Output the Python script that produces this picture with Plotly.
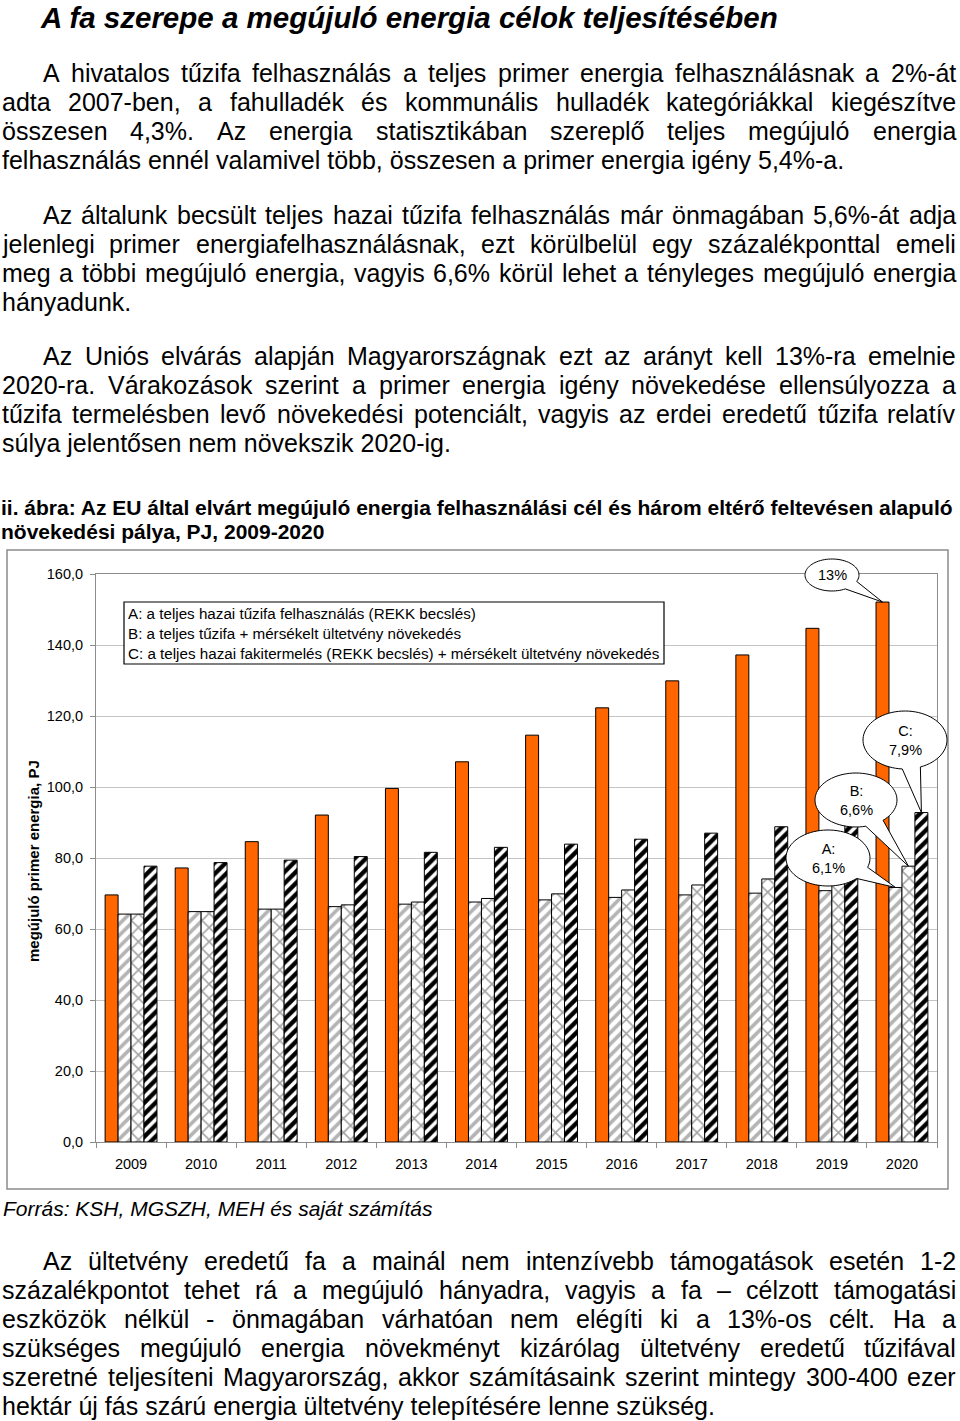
import math
import plotly.graph_objects as go

# ---------------- data ----------------
years = ["2009", "2010", "2011", "2012", "2013", "2014",
         "2015", "2016", "2017", "2018", "2019", "2020"]
eu_target = [69.6, 77.2, 84.6, 92.1, 99.6, 107.1, 114.6, 122.3, 129.9, 137.2, 144.7, 152.1]
scen_a = [64.2, 64.9, 65.6, 66.3, 67.0, 67.6, 68.2, 68.9, 69.6, 70.1, 70.8, 71.7]
scen_b = [64.2, 64.9, 65.6, 66.8, 67.6, 68.6, 69.9, 71.0, 72.4, 74.1, 75.9, 77.7]
scen_c = [77.7, 78.7, 79.4, 80.4, 81.6, 83.0, 83.9, 85.3, 87.0, 88.8, 90.7, 92.8]
y_tick_vals = [0, 20, 40, 60, 80, 100, 120, 140, 160]
y_tick_text = ["0,0", "20,0", "40,0", "60,0", "80,0", "100,0", "120,0", "140,0", "160,0"]

title_text = "A fa szerepe a megújuló energia célok teljesítésében"
para1 = [
    "A hivatalos tűzifa felhasználás a teljes primer energia felhasználásnak a 2%-át",
    "adta 2007-ben, a fahulladék és kommunális hulladék kategóriákkal kiegészítve",
    "összesen 4,3%. Az energia statisztikában szereplő teljes megújuló energia",
    "felhasználás ennél valamivel több, összesen a primer energia igény 5,4%-a.",
]
para2 = [
    "Az általunk becsült teljes hazai tűzifa felhasználás már önmagában 5,6%-át adja",
    "jelenlegi primer energiafelhasználásnak, ezt körülbelül egy százalékponttal emeli",
    "meg a többi megújuló energia, vagyis 6,6% körül lehet a tényleges megújuló energia",
    "hányadunk.",
]
para3 = [
    "Az Uniós elvárás alapján Magyarországnak ezt az arányt kell 13%-ra emelnie",
    "2020-ra. Várakozások szerint a primer energia igény növekedése ellensúlyozza a",
    "tűzifa termelésben levő növekedési potenciált, vagyis az erdei eredetű tűzifa relatív",
    "súlya jelentősen nem növekszik 2020-ig.",
]
caption_lines = [
    "ii. ábra: Az EU által elvárt megújuló energia felhasználási cél és három eltérő feltevésen alapuló",
    "növekedési pálya, PJ, 2009-2020",
]
legend_lines = [
    "A: a teljes hazai tűzifa felhasználás (REKK becslés)",
    "B: a teljes tűzifa + mérsékelt ültetvény növekedés",
    "C: a teljes hazai fakitermelés (REKK becslés) + mérsékelt ültetvény növekedés",
]
bubble_labels = ["13%", "C:<br>7,9%", "B:<br>6,6%", "A:<br>6,1%"]
y_title = "megújuló primer energia, PJ"
source_text = "Forrás: KSH, MGSZH, MEH és saját számítás"
para4 = [
    "Az ültetvény eredetű fa a mainál nem intenzívebb támogatások esetén 1-2",
    "százalékpontot tehet rá a megújuló hányadra, vagyis a fa – célzott támogatási",
    "eszközök nélkül - önmagában várhatóan nem elégíti ki a 13%-os célt. Ha a",
    "szükséges megújuló energia növekményt kizárólag ültetvény eredetű tűzifával",
    "szeretné teljesíteni Magyarország, akkor számításaink szerint mintegy 300-400 ezer",
    "hektár új fás szárú energia ültetvény telepítésére lenne szükség.",
]

# ---------------- layout constants ----------------
FONT = "Liberation Sans, Arial, Helvetica, sans-serif"
FIG_W, FIG_H = 960, 1421
PL, PR, PT, PB = 96, 937, 574, 1142
Y_MAX = 160
BARGAP = 0.26
NSER = 4

def px_x(px):
    return (px - PL) / (PR - PL)

def px_y(py):
    return (PB - py) / (PB - PT)

# approximate Arial/Liberation Sans advance widths (1/1000 em)
CW = {}
for ch, w in zip("abcdefghijklmnopqrstuvwxyz",
                 [556, 556, 500, 556, 556, 278, 556, 556, 222, 222, 500, 222, 833,
                  556, 556, 556, 556, 333, 500, 278, 556, 500, 722, 500, 500, 500]):
    CW[ch] = w
for ch, w in zip("ABCDEFGHIJKLMNOPQRSTUVWXYZ",
                 [667, 667, 722, 722, 667, 611, 778, 722, 278, 500, 667, 556, 833,
                  722, 778, 667, 778, 722, 667, 611, 722, 667, 944, 667, 667, 611]):
    CW[ch] = w
CW.update({"á": 556, "é": 556, "í": 278, "ó": 556, "ö": 556, "ő": 556, "ú": 556,
           "ü": 556, "ű": 556, "Á": 667, "É": 667, "Ö": 778, "Ú": 722,
           " ": 278, ",": 278, ".": 278, ":": 278, ";": 278, "-": 333, "%": 889,
           "(": 333, ")": 333, "+": 584, "–": 556})
for d in "0123456789":
    CW[d] = 556

def text_w(s, size):
    return sum(CW.get(c, 556) for c in s) * size / 1000.0

fig = go.Figure()

# ---------------- bars ----------------
series = [
    ("EU cél", eu_target, "#FF6600", None),
    ("A", scen_a, "white", dict(shape="/", fgcolor="#b4b4b4", fgopacity=1, size=8, solidity=0.45)),
    ("B", scen_b, "white", dict(shape="x", fgcolor="#a4a4a4", fgopacity=1, size=10, solidity=0.3)),
    ("C", scen_c, "white", dict(shape="/", fgcolor="#000000", fgopacity=1, size=8, solidity=0.55)),
]
for name, vals, col, pat in series:
    marker = dict(color=col, line=dict(color="black", width=1))
    if pat:
        marker["pattern"] = pat
    fig.add_trace(go.Bar(x=years, y=vals, name=name, marker=marker,
                         showlegend=False, hoverinfo="x+y"))

fig.update_layout(
    width=FIG_W, height=FIG_H,
    margin=dict(l=PL, r=FIG_W - PR, t=PT, b=FIG_H - PB, pad=0),
    paper_bgcolor="white", plot_bgcolor="white",
    barmode="group", bargap=BARGAP, bargroupgap=0,
    font=dict(family=FONT, color="black"),
    xaxis=dict(type="category", showline=True, linecolor="#8c8c8c", linewidth=1,
               mirror=True, ticks="outside", tickson="boundaries", ticklen=5,
               tickcolor="#8c8c8c", tickfont=dict(size=14.5, color="black"),
               ticklabelstandoff=9, showgrid=False, zeroline=False),
    yaxis=dict(range=[0, Y_MAX], tickvals=y_tick_vals, ticktext=y_tick_text,
               showline=True, linecolor="#8c8c8c", linewidth=1, mirror=True,
               ticks="outside", ticklen=5, tickcolor="#8c8c8c",
               tickfont=dict(size=14.5, color="black"), ticklabelstandoff=4,
               showgrid=True, gridcolor="#c4c4c4", gridwidth=1, zeroline=False),
)

# ---------------- helpers for text ----------------
def add_text(text, x_px, y_px, size, anchor="left", yanchor="middle", angle=0, align="left"):
    fig.add_annotation(text=text, x=px_x(x_px), y=px_y(y_px), xref="paper", yref="paper",
                       xanchor=anchor, yanchor=yanchor, showarrow=False, textangle=angle,
                       align=align, borderpad=0, borderwidth=0,
                       font=dict(size=size, family=FONT, color="black"))

def add_paragraph(lines, y0, indent=43, left=2, right=956, size=25, lh=29):
    for j, line in enumerate(lines):
        y = y0 + j * lh
        start = indent if j == 0 else left
        if j == len(lines) - 1:
            add_text(line, start, y, size)
            continue
        words = line.split(" ")
        ws = [text_w(w, size) for w in words]
        gap = (right - start - sum(ws)) / (len(words) - 1)
        x = start
        for k, (w, wd) in enumerate(zip(words, ws)):
            if k == len(words) - 1:
                add_text(w, right, y, size, anchor="right")
            else:
                add_text(w, x, y, size)
            x += wd + gap

# title and body text
add_text("<b><i>" + title_text + "</i></b>", 40, 17, 29.5)
add_paragraph(para1, 73)
add_paragraph(para2, 215)
add_paragraph(para3, 356)
add_text("<b>" + caption_lines[0] + "</b>", 1, 507, 21)
add_text("<b>" + caption_lines[1] + "</b>", 1, 531, 21)
add_text("<i>" + source_text + "</i>", 3, 1208, 21)
add_paragraph(para4, 1261)

# outer chart frame
fig.add_shape(type="rect", xref="paper", yref="paper", x0=px_x(7), x1=px_x(948),
              y0=px_y(550), y1=px_y(1189), line=dict(color="#8c8c8c", width=1.5),
              fillcolor="rgba(0,0,0,0)", layer="below")

# y axis title
add_text("<b>" + y_title + "</b>", 33, 861, 15, anchor="center", angle=-90)

# legend text box
fig.add_shape(type="rect", xref="paper", yref="paper", x0=px_x(124), x1=px_x(664),
              y0=px_y(602), y1=px_y(664), line=dict(color="black", width=1.2),
              fillcolor="white", layer="above")
for j, line in enumerate(legend_lines):
    add_text(line, 128, 613 + 20 * j, 15.2)

# ---------------- speech bubbles ----------------
bw = (1 - BARGAP) / NSER
def bar_top_px(k, i):
    vals = series[k][1]
    cx = PL + (i + 0.5 + (k - (NSER - 1) / 2) * bw) * (PR - PL) / len(years)
    cy = PB - vals[i] * (PB - PT) / Y_MAX
    return cx, cy

bubbles = [  # label, centre x, centre y, rx, ry (px), series, year index, tail half-angle
    (bubble_labels[0], 832, 575, 27, 16, 0, 11, 0.32),
    (bubble_labels[1], 905, 740, 42, 29, 3, 11, 0.22),
    (bubble_labels[2], 856, 800, 41, 27, 2, 11, 0.24),
    (bubble_labels[3], 828, 858, 42, 28, 1, 11, 0.24),
]
for label, cx, cy, rx, ry, k, i, h in bubbles:
    tx, ty = bar_top_px(k, i)
    th = math.atan2((ty - cy) / ry, (tx - cx) / rx)
    pts = []
    n = 72
    for s in range(n + 1):
        t = th + h + (2 * math.pi - 2 * h) * s / n
        pts.append((cx + rx * math.cos(t), cy + ry * math.sin(t)))
    pts.append((tx, ty))
    path = "M " + " L ".join(f"{px_x(x):.5f},{px_y(y):.5f}" for x, y in pts) + " Z"
    fig.add_shape(type="path", xref="paper", yref="paper", path=path,
                  line=dict(color="black", width=1), fillcolor="white", layer="above")
    add_text(label, cx, cy, 14.5, anchor="center", align="center")

fig.write_html("out.html", config={"displayModeBar": False},
               post_script="document.body.style.margin='0';")
